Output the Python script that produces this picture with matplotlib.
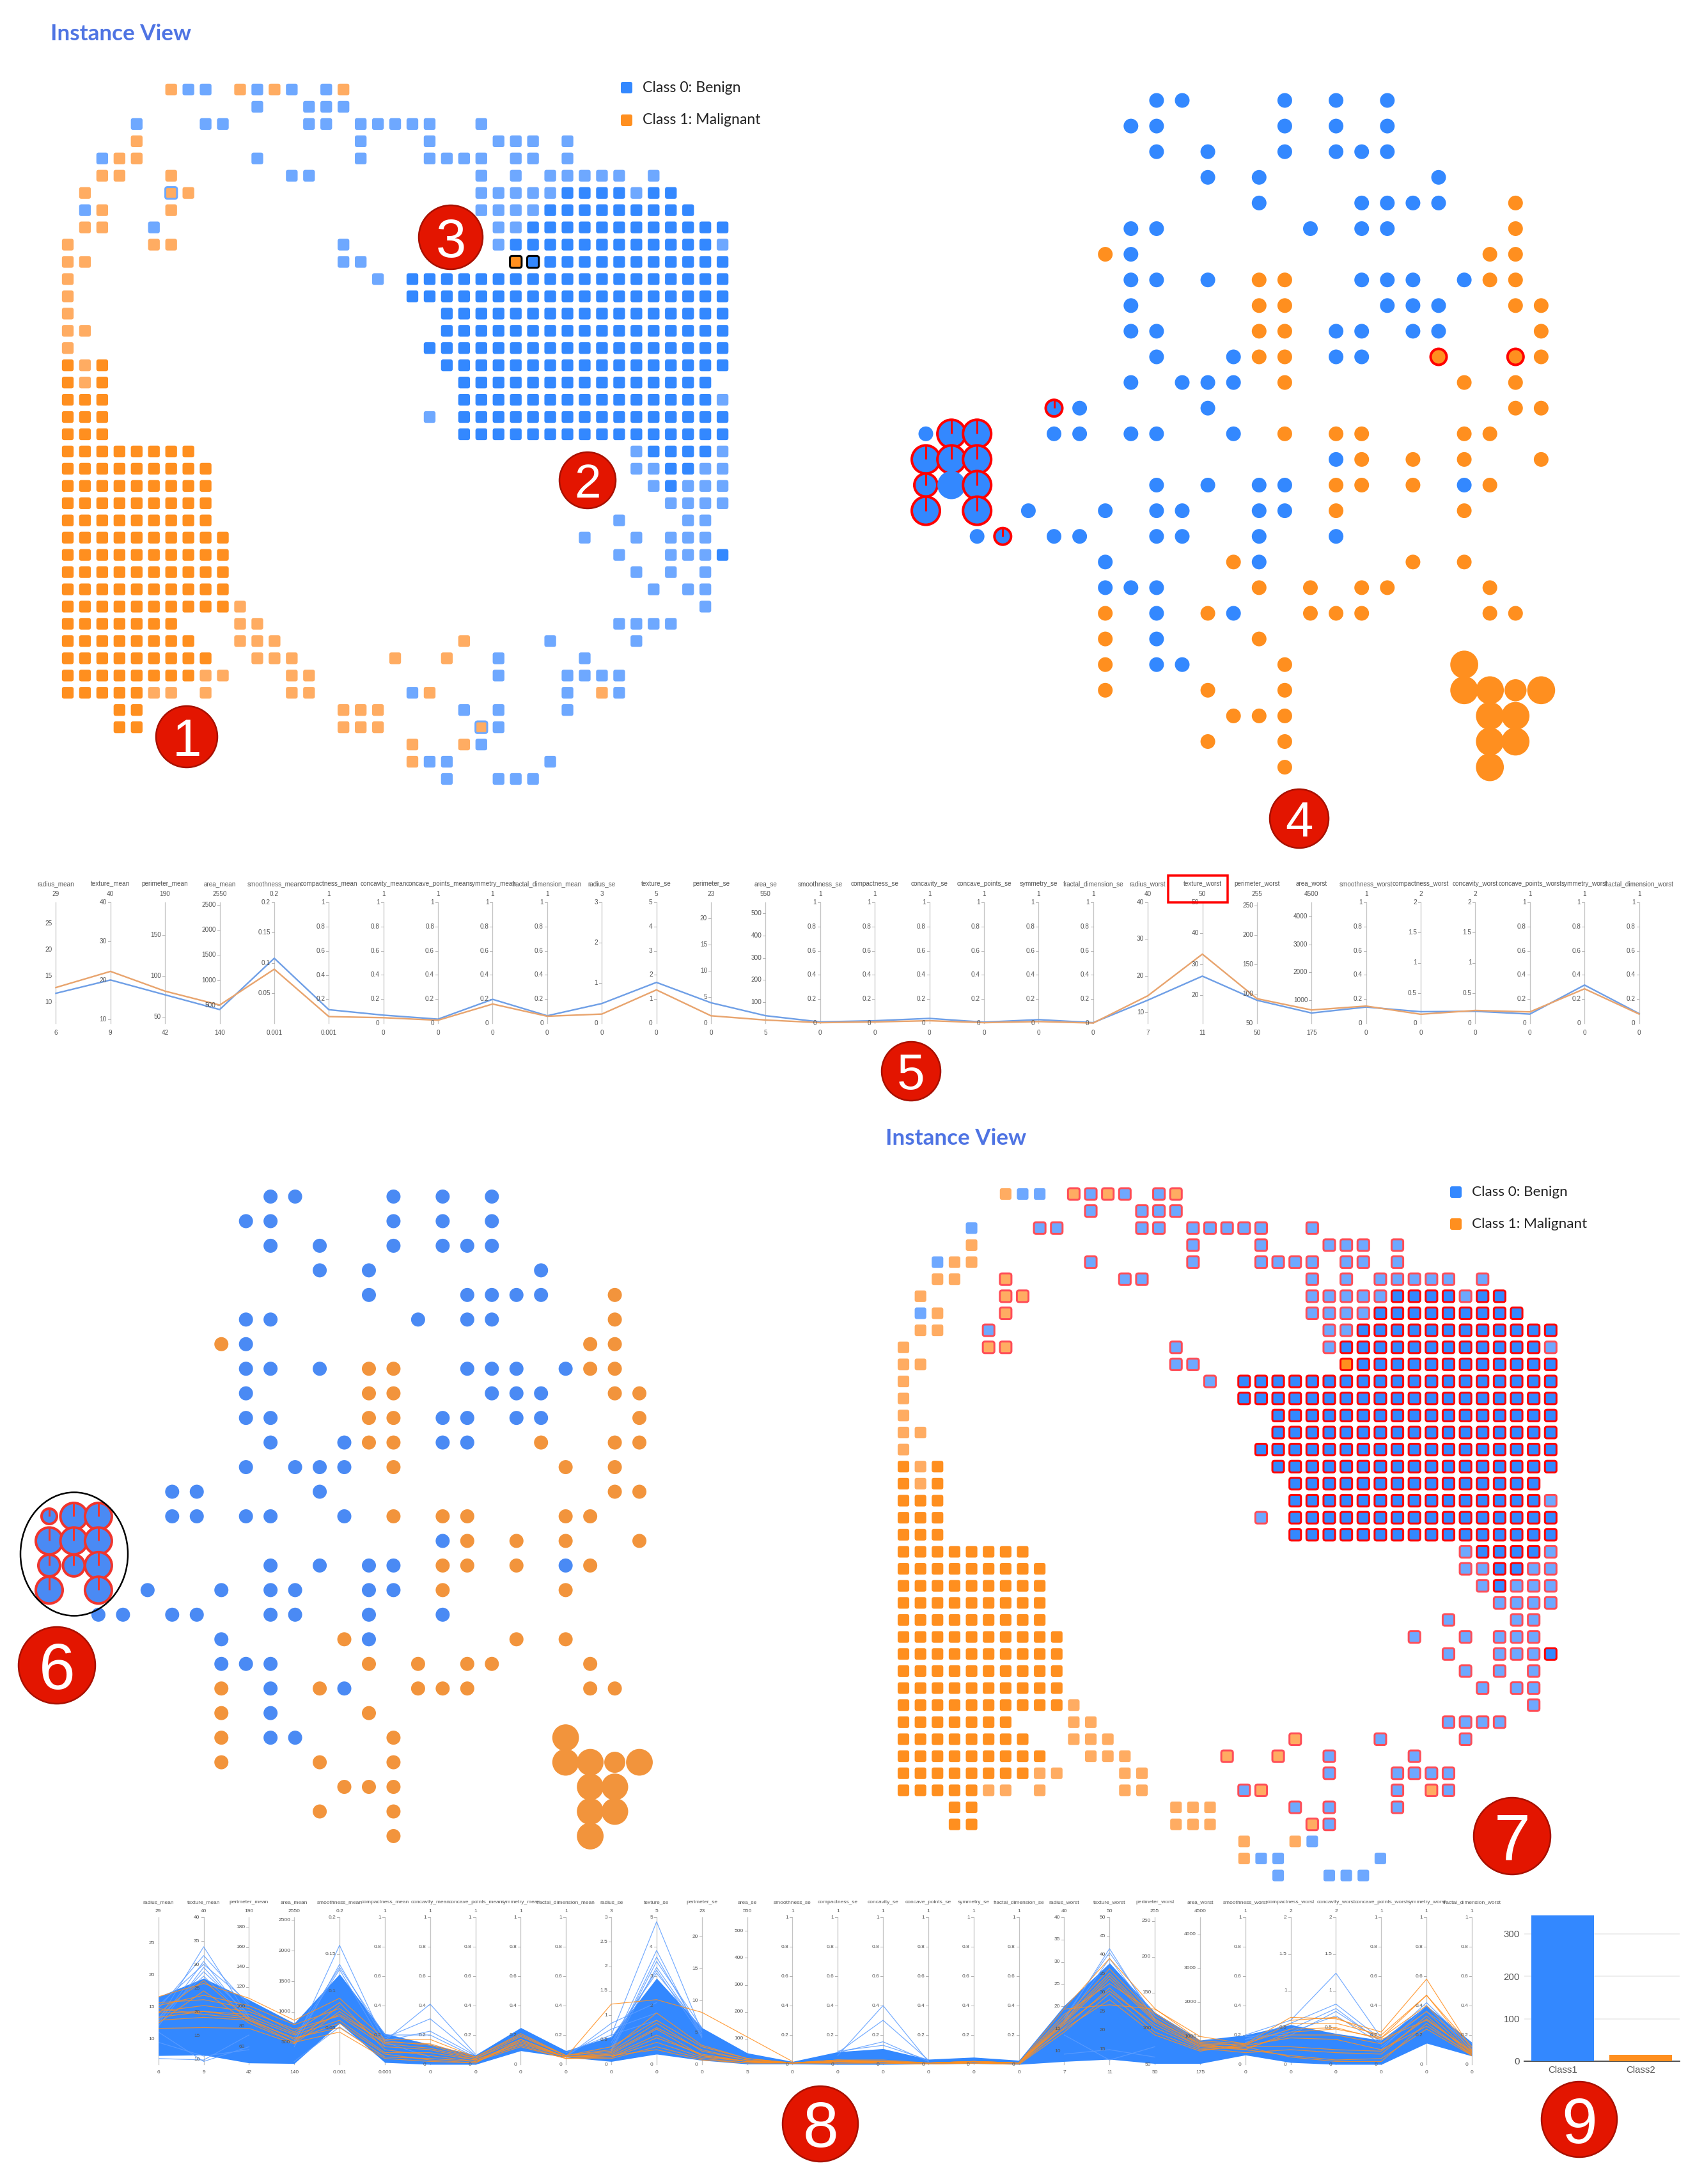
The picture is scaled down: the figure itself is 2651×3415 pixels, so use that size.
import matplotlib
matplotlib.use('Agg')
import matplotlib.pyplot as plt
from matplotlib.patches import Circle, Ellipse, FancyBboxPatch, Rectangle

W, H = 2651, 3415
DPI = 100

BLUE = '#3388ff'
BLUE_LIGHT = '#6ea8ff'
ORANGE = '#ff8f1f'
ORANGE_LIGHT = '#ffac62'
RED = '#ff0000'
BADGE = '#e31500'

# self organising map, one string per row (B/O strong, b/o faded, s = orange with blue border,
# X/Y = selected orange/blue cells)
grid_rows = [
    "......obb. obob.bo",
    ".......... .b..bbb",
    "....b...bb ....bb.bbb bb..b",
    "....o..... .......b.. .b...bbb.b",
    "..boo..... .b.....b.. .bbbb.bb.b",
    "..oo..o... ...bb..... ....b.b.bb bbb.b",
    ".o....so.. .......... ....bbbbbB BBBbBB",
    ".bo...o... .......... ....bbbbBB BBBBBBB",
    ".oo..b.... .......... .....bbBBB BBBBBBBBB",
    "o....oo... ......b... .....bBBBB BBBBBBBBb",
    "oo........ ......bb.. ......XYBB BBBBBBBBB",
    "o......... ........b. BBBBBBBBBB BBBBBBBBB",
    "o......... .......... BBBBBBBBBB BBBBBBBBB",
    "o......... .......... ..BBBBBBBB BBBBBBBBB",
    "oo........ .......... ..BBBBBBBB BBBBBBBBB",
    "o......... .......... .BBBBBBBBB BBBBBBBBB",
    "OoO....... .......... ..BBBBBBBB BBBBBBBBB",
    "OoO....... .......... ...BBBBBBB BBBBBBBB",
    "OOO....... .......... ...BBBBBBB BBBBBBBBb",
    "OOO....... .......... .b.BBBBBBB BBBBBBBBB",
    "OOO....... .......... ...BBBBBBB BBBBBBBBB",
    "OOOOOOOO.. .......... .......... ...bBBBBb",
    "OOOOOOOOO. .......... .......... ...bbBBbb",
    "OOOOOOOOO. .......... .......... ....bBbbb",
    "OOOOOOOOO. .......... .......... .....bbbb",
    "OOOOOOOOO. .......... .......... ..b...bb",
    "OOOOOOOOOO .......... .......... b..b.bbb",
    "OOOOOOOOOO .......... .......... ..b..bbbB",
    "OOOOOOOOOO .......... .......... ...b.b.b",
    "OOOOOOOOOO .......... .......... ....b.bb",
    "OOOOOOOOOO o......... .......... .......b",
    "OOOOOOO... oo........ .......... ..bbbb",
    "OOOOOOOO.. ooo....... ...o....b. ...b",
    "OOOOOOOOO. .ooo.....o ..o..b.... b",
    "OOOOOOOOoo ...oo..... .....b...b bbb",
    "OOOOOoo.o. ...oo..... bo.......b .ob",
    "...OO..... ......ooo. ...b.b...b",
    "...OO..... ......ooo. ....sb",
    ".......... .......... o..ob",
    ".......... .......... obb.....b",
    ".......... .......... ..b..bbb",
]

# cells that break the rule in the lower map: orange with red border, blue without
orange_selected = [(0, 10), (0, 12), (0, 16), (5, 6), (6, 6), (6, 7), (7, 6), (9, 5), (9, 6), (10, 26),
                   (32, 23), (33, 19), (33, 22), (35, 21), (35, 31), (37, 24)]
blue_unselected = [(0, 7), (0, 8), (2, 4), (4, 2), (7, 1), (38, 24), (39, 21), (39, 22), (39, 28),
                   (40, 22), (40, 25), (40, 26), (40, 27)]

# projection of the map, one string per row
glyph_rows = [
    ".........B B...B.B.B",
    "........BB ....B.B.B",
    ".........B .B..B.BBB",
    "........... B.B......B",
    ".......... ...B...BBB B..O",
    "........BB .....B.BB. ...O",
    ".......OB. .......... ..OO",
    "........BB .B.OO..BBB .BOO",
    "........B. ...OO...BB B..OO",
    "........BB ...OO.BB.B B...O",
    ".........B ..BOO.BB.. O..OO",
    "........B. BBB.O..... .O.O",
    ".....BB... .B........ ...OO",
    "BBB..BB.BB ..B.O.OO.. .OO",
    "BBB....... ......BO.O .O..O",
    "BBB......B .B.BB.OO.O .BO",
    "B.B.B..B.B B..BB.O... .O",
    "..BB.BB..B B..B..B",
    ".......B.. ..OB.....O .O",
    ".......BBB ...O.O.OO. ..O",
    ".......O.B .OB..OOO.. ..OO",
    ".......O.B ...O",
    ".......O.B B...O..... .O",
    ".......O.. .O..O..... .OOOO",
    ".......... ..OOO..... ..OO",
    ".......... .O..O..... ..OO",
    ".......... ....O..... ..O",
]
glyph_big = [(22, 21), (23, 21), (23, 22), (23, 24), (24, 22), (24, 23), (25, 22), (25, 23), (26, 22)]
glyph_medium = [(23, 23)]
rings_top = {(12, 5): 13, (13, 1): 22, (13, 2): 22, (14, 0): 22, (14, 1): 22, (14, 2): 22, (15, 0): 18,
             (15, 2): 22, (16, 0): 22, (16, 2): 22, (17, 3): 13, (10, 20): 0, (10, 23): 0}
rings_bottom = {(13, 0): 12, (13, 1): 21, (13, 2): 21, (14, 0): 21, (14, 1): 21, (14, 2): 21, (15, 0): 17,
                (15, 1): 17, (15, 2): 21, (16, 0): 21, (16, 2): 21}

# parallel coordinates
feature_names = ['radius_mean', 'texture_mean', 'perimeter_mean', 'area_mean', 'smoothness_mean',
                 'compactness_mean', 'concavity_mean', 'concave_points_mean', 'symmetry_mean',
                 'fractal_dimension_mean', 'radius_se', 'texture_se', 'perimeter_se', 'area_se',
                 'smoothness_se', 'compactness_se', 'concavity_se', 'concave_points_se', 'symmetry_se',
                 'fractal_dimension_se', 'radius_worst', 'texture_worst', 'perimeter_worst', 'area_worst',
                 'smoothness_worst', 'compactness_worst', 'concavity_worst', 'concave_points_worst',
                 'symmetry_worst', 'fractal_dimension_worst']
axis_lo = [6, 9, 42, 140, 0.001, 0.001, 0, 0, 0, 0, 0, 0, 0, 5, 0, 0, 0, 0, 0, 0, 7, 11, 50, 175, 0, 0, 0, 0, 0, 0]
axis_hi = [29, 40, 190, 2550, 0.2, 1, 1, 1, 1, 1, 3, 5, 23, 550, 1, 1, 1, 1, 1, 1, 40, 50, 255, 4500, 1, 2, 2, 1, 1, 1]

unit = [0, 0.2, 0.4, 0.6, 0.8, 1]
unit_no0 = [0.2, 0.4, 0.6, 0.8, 1]
half = [0, 0.5, 1, 1.5, 2]
ticks_top = [[10, 15, 20, 25], [10, 20, 30, 40], [50, 100, 150], [500, 1000, 1500, 2000, 2500],
             [0.05, 0.1, 0.15, 0.2], unit_no0, unit, unit, unit, unit, [0, 1, 2, 3], [0, 1, 2, 3, 4, 5],
             [0, 5, 10, 15, 20], [100, 200, 300, 400, 500], unit, unit, unit, unit, unit, unit,
             [10, 20, 30, 40], [20, 30, 40, 50], [50, 100, 150, 200, 250], [1000, 2000, 3000, 4000],
             unit, half, half, unit, unit, unit]
ticks_bottom = [[10, 15, 20, 25], [10, 15, 20, 25, 30, 35, 40], [60, 80, 100, 120, 140, 160, 180],
                [500, 1000, 1500, 2000, 2500], [0.05, 0.1, 0.15, 0.2], unit_no0, unit, unit, unit, unit,
                [0, 0.5, 1, 1.5, 2, 2.5, 3], [0, 1, 2, 3, 4, 5], [0, 5, 10, 15, 20],
                [100, 200, 300, 400, 500], unit, unit, unit, unit, unit, unit,
                [10, 15, 20, 25, 30, 35, 40], [15, 20, 25, 30, 35, 40, 45, 50],
                [50, 100, 150, 200, 250], [1000, 2000, 3000, 4000], unit, half, half, unit, unit, unit]

mean_benign = [11.7, 20.1, 76.8, 413, 0.108, 0.113, 0.067, 0.034, 0.198, 0.062, 0.49, 1.69, 3.9, 39, 0.011,
               0.021, 0.04, 0.009, 0.03, 0.005, 13.3, 26.2, 89, 542, 0.134, 0.191, 0.198, 0.076, 0.316, 0.08]
mean_malignant = [12.8, 22.3, 81.3, 503, 0.09, 0.056, 0.046, 0.025, 0.159, 0.058, 0.228, 1.38, 1.42, 19.5, 0.005,
                  0.011, 0.021, 0.005, 0.014, 0.002, 14.5, 33.3, 91.7, 650, 0.142, 0.149, 0.212, 0.094, 0.285, 0.076]

# lower plot: the dense blue mass and single lines, as a share of each axis height
band_low = [.06, .064, .01, .006, .28, .013, 0, 0, .093, .049, .02, .07, .028, .003, .003,
            0, 0, .003, .006, 0, .02, .035, .006, .006, .064, .013, 0, 0, .144, .057]
band_high = [.46, .586, .44, .28, .615, .21, .136, .064, .25, .093, .19, .586, .25, .078, .02,
             .086, .107, .035, .049, .028, .40, .69, .354, .165, .20, .27, .21, .165, .40, .15]

blue_lines = [
    (0, [.30, .80, .32]), (0, [.28, .70, .30]), (0, [.26, .66, .32]), (0, [.30, .63, .34]), (0, [.32, .60, .30]),
    (0, [.22, .02, .12]), (0, [.15, .057, .10]), (0, [.04, .03, .20]), (0, [.40, .68, .42]), (0, [.38, .74, .40]),
    (3, [.14, .81, .15, .05]), (3, [.12, .68, .16]), (3, [.16, .645, .12]), (3, [.02, .255, .05]), (3, [.18, .66, .2]),
    (5, [.16, .41, .07]), (5, [.18, .31, .06]), (5, [.16, .226, .06]), (5, [.20, .20, .05]),
    (9, [.05, .28, .42]), (9, [.06, .24, .35]), (9, [.08, .20, .30]),
    (10, [.20, .97, .22]), (10, [.12, .775, .18]), (10, [.10, .73, .20]), (10, [.10, .70, .25]),
    (10, [.09, .66, .22]), (10, [.15, .64, .19]), (10, [.18, .62, .24]),
    (15, [.06, .40, .02]), (15, [.08, .30, .03]), (15, [.08, .154, .02]), (15, [.09, .13, .03]),
    (20, [.30, .787, .30]), (20, [.32, .76, .33]), (20, [.28, .72, .31]), (20, [.20, .03, .12]), (20, [.07, .10, .05]),
    (24, [.20, .30, .62, .18]), (24, [.17, .28, .41, .17]), (24, [.15, .24, .38, .15]), (24, [.17, .22, .33, .14]),
    (24, [.19, .20, .36, .16]),
    (27, [.14, .42, .12]), (27, [.10, .40, .10]), (27, [.12, .36, .14]),
]

orange_lines = [
    [.46, .55, .45, .30, .45, .17, .17, .05, .21, .06, .12, .30, .12, .04, .01, .03, .03, .01, .02, .01, .38, .72, .38, .16, .14, .32, .31, .22, .58, .10],
    [.40, .47, .40, .27, .38, .16, .13, .04, .17, .05, .08, .25, .10, .03, .01, .02, .02, .01, .02, .01, .32, .65, .33, .14, .13, .28, .28, .20, .47, .09],
    [.36, .40, .36, .24, .33, .12, .10, .03, .15, .05, .06, .20, .06, .02, .01, .02, .01, .01, .01, .01, .28, .58, .29, .12, .10, .22, .24, .18, .40, .08],
    [.32, .36, .32, .20, .30, .08, .08, .03, .13, .04, .05, .15, .05, .02, .01, .01, .01, .01, .01, .00, .25, .52, .25, .11, .08, .10, .08, .07, .33, .06],
    [.30, .32, .30, .18, .25, .05, .04, .02, .12, .04, .04, .12, .04, .01, .01, .01, .01, .00, .01, .00, .22, .48, .22, .10, .12, .05, .02, .02, .28, .06],
    [.28, .50, .28, .15, .22, .04, .02, .01, .17, .05, .06, .10, .03, .01, .01, .02, .02, .01, .01, .01, .30, .62, .31, .13, .11, .20, .20, .14, .36, .07],
    [.245, .25, .245, .14, .36, .14, .11, .04, .19, .06, .09, .28, .09, .03, .01, .03, .02, .01, .02, .01, .24, .44, .20, .09, .14, .24, .25, .17, .30, .09],
    [.42, .44, .38, .22, .42, .10, .06, .02, .14, .05, .05, .18, .07, .02, .01, .01, .01, .01, .02, .01, .34, .55, .35, .15, .13, .18, .17, .10, .26, .07],
    [.35, .36, .34, .21, .34, .15, .14, .05, .20, .06, .10, .35, .13, .04, .01, .02, .02, .01, .01, .01, .27, .50, .27, .12, .12, .12, .10, .09, .31, .08],
    [.38, .34, .31, .17, .28, .07, .03, .01, .16, .05, .07, .24, .06, .02, .01, .03, .01, .01, .02, .01, .29, .60, .30, .14, .10, .06, .03, .04, .24, .06],
]
orange_pieces = [(9, [.05, .41, .44, .354, .187, .02]), (0, [.35, .57, .30, .15, .40]),
                 (20, [.376, .405, .376, .19, .14]), (25, [.30, .32, .18, .47, .12])]

bar_names = ['Class1', 'Class2']
bar_values = [343, 15]
bar_colors = [BLUE, ORANGE]
bar_ticks = [0, 100, 200, 300]

legend_names = ['Class 0: Benign', 'Class 1: Malignant']

badges = [('1', 292, 1152, 48), ('2', 919, 751, 44), ('3', 705, 371, 50), ('4', 2032, 1280, 46), ('5', 1425, 1675, 46),
          ('6', 89, 2604, 60), ('7', 2365, 2871, 60), ('8', 1283, 3321, 59), ('9', 2470, 3314, 59)]

plt.rcParams['font.family'] = ['Liberation Sans', 'DejaVu Sans']


def px(n):
    # sizes are read in pixels of the picture
    return n * 72 / DPI


def add_axes_px(x0, y0, x1, y1):
    ax = fig.add_axes([x0 / W, 1 - y1 / H, (x1 - x0) / W, (y1 - y0) / H])
    ax.set_axis_off()
    return ax


def clean_rows(rows):
    return [r.replace(' ', '') for r in rows]


def draw_map(x0, y0, step, selection=False):
    rows = clean_rows(grid_rows)
    ax = add_axes_px(x0 - step / 2, y0 - step / 2, x0 + 38.5 * step, y0 + 40.5 * step)
    ax.set_xlim(-0.5, 38.5)
    ax.set_ylim(40.5, -0.5)
    side = 0.68
    colors = {'B': BLUE, 'b': BLUE_LIGHT, 'O': ORANGE, 'o': ORANGE_LIGHT, 's': ORANGE_LIGHT, 'X': ORANGE, 'Y': BLUE}
    for r, row in enumerate(rows):
        for c, cell in enumerate(row):
            if cell == '.':
                continue
            edge = 'none'
            lw = 0
            if selection:
                blue = cell in 'bBY'
                on = (blue and (r, c) not in blue_unselected) or (r, c) in orange_selected
                if on:
                    edge = RED if cell in 'BYX' else '#ff4d57'
                    lw = px(3)
            elif cell == 's':
                edge, lw = BLUE_LIGHT, px(3)
            elif cell in 'XY':
                edge, lw = 'black', px(3)
            ax.add_patch(FancyBboxPatch((c - side / 2, r - side / 2), side, side,
                                        boxstyle='round,pad=0,rounding_size=0.13',
                                        fc=colors[cell], ec=edge, lw=lw))


def draw_glyphs(x0, y0, step, base_r, rings, plain_big, blue, orange, ring_color):
    rows = clean_rows(glyph_rows)
    ax = add_axes_px(x0 - step / 2, y0 - step / 2, x0 + 24.5 * step, y0 + 26.5 * step)
    ax.set_xlim(-0.5, 24.5)
    ax.set_ylim(26.5, -0.5)
    for r, row in enumerate(rows):
        for c, cell in enumerate(row):
            if cell == '.':
                continue
            col = blue if cell == 'B' else orange
            rad = base_r
            if (r, c) in glyph_big:
                rad = base_r * 1.9
            if (r, c) in glyph_medium:
                rad = base_r * 1.5
            if (r, c) in plain_big:
                rad = plain_big[(r, c)]
            if (r, c) in rings:
                rad = rings[(r, c)] or base_r + 1
                ax.add_patch(Circle((c, r), rad / step, fc=col, ec=ring_color, lw=px(4), clip_on=False))
                if rings[(r, c)]:
                    ax.plot([c, c], [r, r - rad / step], color=ring_color, lw=px(3), solid_capstyle='butt', clip_on=False)
            else:
                ax.add_patch(Circle((c, r), rad / step, fc=col, ec='none', clip_on=False))


def draw_parallel(x0, x1, y0, y1, ticks, size, off_name, off_value, off_low):
    ax = add_axes_px(x0, y0, x1, y1)
    ax.set_xlim(0, 29)
    ax.set_ylim(0, 1)
    tick_w = 4 / ((x1 - x0) / 29)
    for i, name in enumerate(feature_names):
        lo, hi = axis_lo[i], axis_hi[i]
        ax.plot([i, i], [0, 1], color='#c4c4c4', lw=px(1.3), zorder=1, clip_on=False)
        for t in ticks[i]:
            p = (t - lo) / (hi - lo)
            ax.plot([i - tick_w, i], [p, p], color='#b0b0b0', lw=px(1), zorder=1)
            ax.annotate(f'{t:g}', (i, p), xytext=(-6, 0), textcoords='offset pixels', ha='right', va='center',
                        fontsize=px(size), color='#555555', zorder=6, annotation_clip=False)
        ax.annotate(name, (i, 1), xytext=(0, off_name), textcoords='offset pixels', ha='center', va='center',
                    fontsize=px(size), color='#555555', annotation_clip=False)
        ax.annotate(f'{hi:g}', (i, 1), xytext=(0, off_value), textcoords='offset pixels', ha='center', va='center',
                    fontsize=px(size), color='#555555', annotation_clip=False)
        ax.annotate(f'{lo:g}', (i, 0), xytext=(0, -off_low), textcoords='offset pixels', ha='center', va='center',
                    fontsize=px(size), color='#555555', annotation_clip=False)
    return ax


fig = plt.figure(figsize=(W / DPI, H / DPI), dpi=DPI, facecolor='white')

# top half
draw_map(106, 140, 26.95)
draw_glyphs(1448, 157, 40.1, 11.5, rings_top, {(15, 1): 22}, BLUE, ORANGE, RED)

ax5 = draw_parallel(87.4, 2563.6, 1411, 1600, ticks_top, 10, 29, 13, 15)
idx = list(range(30))
share_b = [(v - l) / (h - l) for v, l, h in zip(mean_benign, axis_lo, axis_hi)]
share_m = [(v - l) / (h - l) for v, l, h in zip(mean_malignant, axis_lo, axis_hi)]
ax5.plot(idx, share_b, color='#6f9fe6', lw=px(2.4), zorder=3, clip_on=False)
ax5.plot(idx, share_m, color='#e8a46e', lw=px(2.4), zorder=4, clip_on=False)

# bottom half
draw_glyphs(77, 1871, 38.46, 11, rings_bottom, {}, '#4a8af4', '#f2943c', '#f0352d')
draw_map(1413, 1867, 26.64, selection=True)

ax8 = draw_parallel(247.7, 2302, 2998, 3228, ticks_bottom, 8.4, 23, 10, 12)
ax8.fill_between(idx, band_low, band_high, color=BLUE, lw=0, zorder=2)
for start, vals in blue_lines:
    ax8.plot(range(start, start + len(vals)), vals, color='#5c9dff', lw=px(1.2), alpha=0.85, zorder=3)
for line in orange_lines:
    ax8.plot(idx, line, color=ORANGE, lw=px(1.2), alpha=0.85, zorder=4)
for start, vals in orange_pieces:
    ax8.plot(range(start, start + len(vals)), vals, color=ORANGE, lw=px(1.2), alpha=0.85, zorder=4)

ax9 = fig.add_axes([2384 / W, 1 - 3223 / H, (2627 - 2384) / W, (3223 - 2985) / H])
ax9.bar(range(2), bar_values, width=0.8, color=bar_colors, zorder=3)
ax9.set_xlim(-0.49, 1.5)
ax9.set_ylim(0, 358)
ax9.set_xticks(range(2), bar_names)
ax9.set_yticks(bar_ticks)
ax9.tick_params(length=0, labelsize=px(15), colors='#555555', pad=5)
ax9.grid(axis='y', color='#eeeeee', lw=px(2))
ax9.set_axisbelow(True)
for s in ['top', 'right', 'left']:
    ax9.spines[s].set_visible(False)
ax9.spines['bottom'].set_color('#555555')
ax9.spines['bottom'].set_linewidth(px(2))

# titles, legends, badges and marks on top, in picture pixels
over = fig.add_axes([0, 0, 1, 1], facecolor='none')
over.set_xlim(0, W)
over.set_ylim(H, 0)
over.set_axis_off()

for tx, ty in [(79, 53), (1385, 1780)]:
    over.text(tx, ty, 'Instance View', fontsize=px(35), color='#4f74e3', family='Lato', weight='bold', va='center')

for lx, ly, gap, fs in [(980, 137, 51, 23), (2277, 1864, 50, 22.5)]:
    for i, name in enumerate(legend_names):
        y = ly + i * gap
        over.add_patch(FancyBboxPatch((lx - 9, y - 9), 18, 18, boxstyle='round,pad=0,rounding_size=3',
                                      fc=[BLUE, ORANGE][i], ec='none'))
        over.text(lx + 25, y, name, fontsize=px(fs), color='#222222', family='Lato', va='center')

over.add_patch(Rectangle((1827, 1369), 93, 42, fc='none', ec=RED, lw=px(3.5)))
over.add_patch(Ellipse((116, 2430), 168, 193, fc='none', ec='black', lw=px(2.5)))

for label, bx, by, r in badges:
    over.add_patch(Circle((bx, by), r, fc=BADGE, ec='#a81000', lw=px(2.5)))
    over.text(bx, by, label, fontsize=px(r * 1.7), color='white', ha='center', va='center_baseline')

fig.savefig('out.png', dpi=DPI)
